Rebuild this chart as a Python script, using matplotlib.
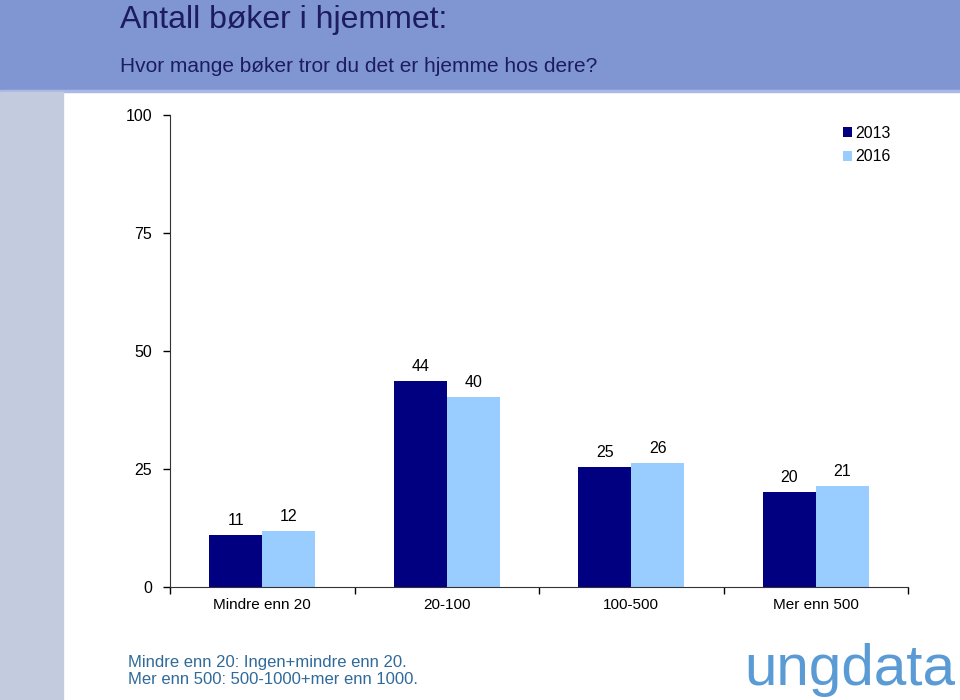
import matplotlib
matplotlib.use("Agg")
import matplotlib.pyplot as plt
import numpy as np

# data
categories = ["Mindre enn 20", "20-100", "100-500", "Mer enn 500"]
years = ["2013", "2016"]
values_2013 = [11.0, 43.6, 25.4, 20.1]
values_2016 = [11.9, 40.3, 26.3, 21.4]
labels_2013 = ["11", "44", "25", "20"]
labels_2016 = ["12", "40", "26", "21"]
yticks = [0, 25, 50, 75, 100]

dark = "#000080"
light = "#99CCFF"
plt.rcParams["font.family"] = ["Liberation Sans", "DejaVu Sans"]

W, H = 960, 700
fig = plt.figure(figsize=(9.6, 7.0), dpi=100)

# header band and left strip
fig.patches.append(plt.Rectangle((0, 1 - 90 / H), 1, 90 / H, transform=fig.transFigure,
                                 color="#8096D3", zorder=0))
fig.patches.append(plt.Rectangle((0, 1 - 92 / H), 1, 2 / H, transform=fig.transFigure,
                                 color="#A9B8E4", zorder=0))
fig.patches.append(plt.Rectangle((0, 0), 63 / W, 1 - 92 / H, transform=fig.transFigure,
                                 color="#C3CCDE", zorder=0))

fig.text(120 / W, 1 - 20 / H, "Antall bøker i hjemmet:", fontsize=23, color="#1C1C5E",
         va="center", ha="left")
fig.text(120 / W, 1 - 66 / H, "Hvor mange bøker tror du det er hjemme hos dere?",
         fontsize=15, color="#1C1C5E", va="center", ha="left")

ax = fig.add_axes([170 / W, (H - 587) / H, 738 / W, (587 - 115) / H])
x = np.arange(len(categories))
bw = 0.287
b1 = ax.bar(x - bw / 2, values_2013, bw, color=dark, label=years[0])
b2 = ax.bar(x + bw / 2, values_2016, bw, color=light, label=years[1])

for bars, labs in ((b1, labels_2013), (b2, labels_2016)):
    for r, t in zip(bars, labs):
        ax.annotate(t, (r.get_x() + r.get_width() / 2, r.get_height()),
                    xytext=(0, 5), textcoords="offset points", ha="center", va="bottom",
                    fontsize=11.5)

ax.set_xlim(-0.5, len(categories) - 0.5)
ax.set_ylim(0, 100)
ax.set_yticks(yticks)
ax.tick_params(axis="y", labelsize=11.5, length=5, width=1, pad=8)
ax.set_xticks(x)
ax.set_xticklabels(categories, fontsize=11)
ax.tick_params(axis="x", length=0, pad=8)
ax.set_xticks(np.arange(-0.5, len(categories)), minor=True)
ax.tick_params(axis="x", which="minor", length=5, width=1)
for s in ("top", "right"):
    ax.spines[s].set_visible(False)
for s in ("left", "bottom"):
    ax.spines[s].set_color("#333333")

ax.legend(loc="upper right", bbox_to_anchor=(0.996, 1.008), frameon=False, fontsize=11.5,
          handlelength=0.55, handleheight=0.55, handletextpad=0.2, labelspacing=0.55)

fig.text(128 / W, 1 - 662 / H, "Mindre enn 20: Ingen+mindre enn 20.", fontsize=12,
         color="#2F6A9A", va="center")
fig.text(128 / W, 1 - 680 / H, "Mer enn 500: 500-1000+mer enn 1000.", fontsize=12,
         color="#2F6A9A", va="center")
fig.text(744 / W, 1 - 670 / H, "ungdata", fontsize=42, color="#5B9BD5", va="center",
         ha="left")

fig.savefig("out.png", dpi=100)
